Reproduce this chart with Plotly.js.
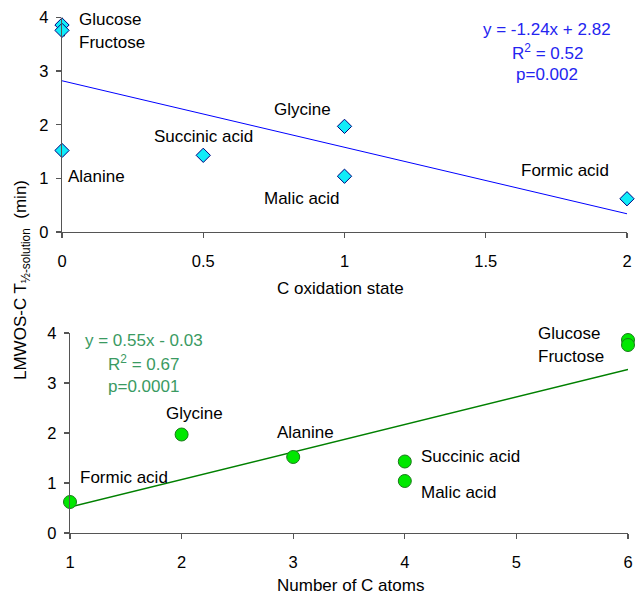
<!DOCTYPE html>
<html>
<head>
<meta charset="utf-8">
<script src="https://cdn.plot.ly/plotly-3.0.1.min.js"></script>
<style>html,body{margin:0;padding:0;background:#fff;}#chart{width:640px;height:597px;}</style>
</head>
<body>
<div id="chart"></div>
<script>
// ---- data ----
const compounds = ["Glucose", "Fructose", "Alanine", "Succinic acid", "Glycine", "Malic acid", "Formic acid"];
const oxidationState = [0, 0, 0, 0.5, 1, 1, 2];
const numCAtoms = [6, 6, 3, 4, 2, 4, 1];
const halfLife = [3.86, 3.76, 1.52, 1.43, 1.97, 1.04, 0.62];
const halfLifeErr = [0.17, 0.1, 0, 0, 0, 0, 0];
const trendTopX = [0, 2];
const trendTopY = [2.82, 0.34];
const trendBotX = [1, 6];
const trendBotY = [0.52, 3.27];
const eqTop = ["y = -1.24x + 2.82", "R<sup>2</sup> = 0.52", "p=0.002"];
const eqBot = ["y = 0.55x - 0.03", "R<sup>2</sup> = 0.67", "p=0.0001"];

const W = 640, H = 597;
const px = v => v / W, py = v => 1 - v / H;
const FONT = "Liberation Sans, Arial, sans-serif";
const FS = 17;

const traces = [
  {x: trendTopX, y: trendTopY, xaxis: 'x', yaxis: 'y', mode: 'lines',
   line: {color: '#0000FF', width: 1}, hoverinfo: 'skip', cliponaxis: false},
  {x: oxidationState, y: halfLife, xaxis: 'x', yaxis: 'y', mode: 'markers', type: 'scatter',
   cliponaxis: false,
   error_y: {type: 'data', array: halfLifeErr, visible: true, color: '#000', thickness: 1, width: 3},
   marker: {symbol: 'diamond', size: 11, color: '#10ECF8', line: {color: '#000080', width: 1}}},
  {x: trendBotX, y: trendBotY, xaxis: 'x2', yaxis: 'y2', mode: 'lines',
   line: {color: '#008000', width: 1.5}, hoverinfo: 'skip', cliponaxis: false},
  {x: numCAtoms, y: halfLife, xaxis: 'x2', yaxis: 'y2', mode: 'markers', type: 'scatter',
   cliponaxis: false,
   marker: {symbol: 'circle', size: 13, color: '#00E800', line: {color: '#1A7A1A', width: 1}}}
];

const axisBase = {
  showline: true, linecolor: '#555', linewidth: 1.3, ticks: 'outside', ticklen: 5,
  tickcolor: '#555', tickwidth: 1.3, showgrid: false, zeroline: false,
  tickfont: {family: FONT, size: 16.5, color: '#000'}, fixedrange: true
};

// label placements (data coordinates of each subplot)
const topLabelPos = {
  "Glucose": [0.053, 3.96, 'left'], "Fructose": [0.053, 3.53, 'left'],
  "Glycine": [0.853, 2.28, 'center'], "Succinic acid": [0.5, 1.79, 'center'],
  "Alanine": [0.014, 1.04, 'left'], "Malic acid": [0.85, 0.63, 'center'],
  "Formic acid": [1.78, 1.14, 'center']
};
const botLabelPos = {
  "Glucose": [5.18, 4.0, 'left'], "Fructose": [5.18, 3.54, 'left'],
  "Glycine": [2.12, 2.4, 'center'], "Alanine": [3.11, 2.02, 'center'],
  "Formic acid": [1.07, 1.12, 'left'], "Succinic acid": [4.13, 1.54, 'left'],
  "Malic acid": [4.13, 0.82, 'left']
};

const annotations = [];
compounds.forEach(name => {
  const t = topLabelPos[name];
  annotations.push({xref: 'x', yref: 'y', x: t[0], y: t[1], text: name, showarrow: false,
    xanchor: t[2], yanchor: 'middle', font: {family: FONT, size: FS, color: '#000'}});
  const b = botLabelPos[name];
  annotations.push({xref: 'x2', yref: 'y2', x: b[0], y: b[1], text: name, showarrow: false,
    xanchor: b[2], yanchor: 'middle', font: {family: FONT, size: FS, color: '#000'}});
});
const eqTopY = [3.77, 3.36, 2.93];
eqTop.forEach((t, i) => annotations.push({xref: 'x', yref: 'y', x: 1.717, y: eqTopY[i], text: t,
  showarrow: false, xanchor: 'center', yanchor: 'middle', font: {family: FONT, size: FS, color: '#2424F0'}}));
const eqBotY = [3.86, 3.4, 2.94];
eqBot.forEach((t, i) => annotations.push({xref: 'x2', yref: 'y2', x: 1.663, y: eqBotY[i], text: t,
  showarrow: false, xanchor: 'center', yanchor: 'middle', font: {family: FONT, size: FS, color: '#3A9A62'}}));

// axis titles
annotations.push({xref: 'paper', yref: 'paper', x: px(340), y: py(288), text: 'C oxidation state',
  showarrow: false, xanchor: 'center', yanchor: 'middle', font: {family: FONT, size: FS, color: '#000'}});
annotations.push({xref: 'paper', yref: 'paper', x: px(350), y: py(585), text: 'Number of C atoms',
  showarrow: false, xanchor: 'center', yanchor: 'middle', font: {family: FONT, size: FS, color: '#000'}});
annotations.push({xref: 'paper', yref: 'paper', x: px(22), y: py(280), textangle: -90,
  text: 'LMWOS-C T<sub>½-solution</sub>  (min)',
  showarrow: false, xanchor: 'center', yanchor: 'middle', font: {family: FONT, size: FS, color: '#000'}});

const layout = {
  width: W, height: H, margin: {l: 0, r: 0, t: 0, b: 0},
  paper_bgcolor: '#fff', plot_bgcolor: 'rgba(0,0,0,0)', showlegend: false,
  xaxis: Object.assign({}, axisBase, {domain: [px(62), px(627)], range: [0, 2], dtick: 0.5, tick0: 0,
    anchor: 'y', ticklabelstandoff: 9}),
  yaxis: Object.assign({}, axisBase, {domain: [py(232), py(17.5)], range: [0, 4], dtick: 1, anchor: 'x',
    ticklabelstandoff: 4}),
  xaxis2: Object.assign({}, axisBase, {domain: [px(70), px(628)], range: [1, 6], dtick: 1, anchor: 'y2',
    ticklabelstandoff: 9}),
  yaxis2: Object.assign({}, axisBase, {domain: [py(533), py(333)], range: [0, 4], dtick: 1, anchor: 'x2',
    ticklabelstandoff: 4}),
  annotations: annotations
};

Plotly.newPlot('chart', traces, layout, {displayModeBar: false, staticPlot: true});
</script>
</body>
</html>
